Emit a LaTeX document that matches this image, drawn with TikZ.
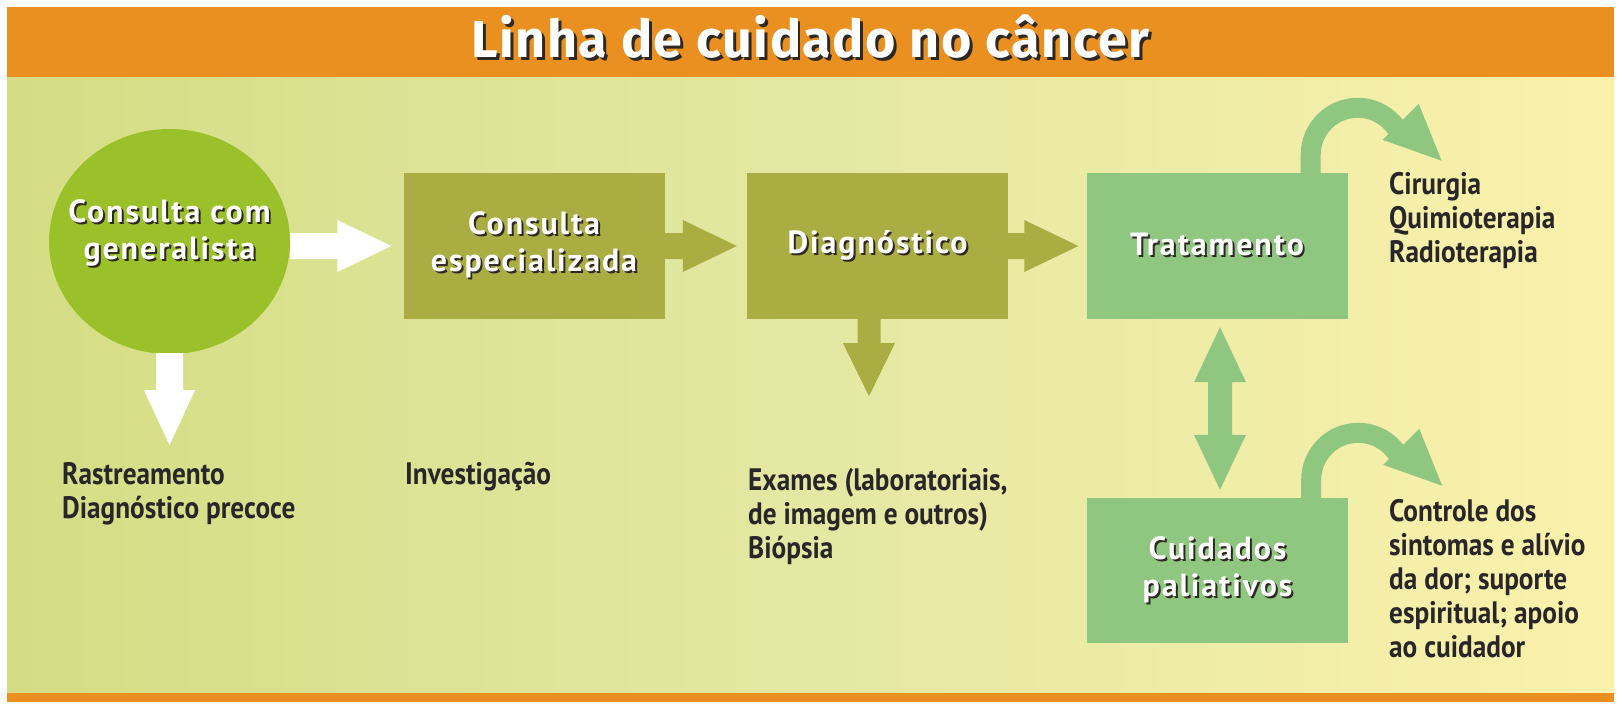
\documentclass[tikz,border=0pt]{standalone}
\usepackage{fontspec}
\setmainfont{PT Sans}
\newfontfamily\titlefont[LetterSpace=3]{Fira Sans}
\newfontfamily\boxfont[LetterSpace=6]{PT Sans}
\newfontfamily\labfont[FakeStretch=0.88]{PT Sans}
\usetikzlibrary{shapes.geometric,calc}
\definecolor{orangeC}{RGB}{233,144,32}
\definecolor{panelL}{RGB}{212,221,132}
\definecolor{panelM}{RGB}{228,232,163}
\definecolor{panelR}{RGB}{250,241,172}
\definecolor{circC}{RGB}{155,193,42}
\definecolor{oliveC}{RGB}{169,173,66}
\definecolor{lgreenC}{RGB}{143,198,128}
\definecolor{txtC}{RGB}{40,38,40}
\definecolor{shadowC}{RGB}{45,40,35}
\newcommand\sh[2][2pt]{\leavevmode\rlap{\kern#1\raisebox{-#1}{\textcolor{shadowC}{#2}}}#2}
\newcommand\tstrut{\rule{0pt}{26pt}}
% horizontal block arrow: colour, start, tip
\newcommand\hblock[3]{\fill[#1] ($(#2)+(0,-13)$) -- ($(#3)+(-54,-13)$) -- ($(#3)+(-54,-26)$) -- (#3) -- ($(#3)+(-54,26)$) -- ($(#3)+(-54,13)$) -- ($(#2)+(0,13)$) -- cycle;}
% vertical block arrow (downwards): colour, start, tip, shaft half, head half, head length
\newcommand\vblock[6]{\fill[#1] ($(#2)+(-#4,0)$) -- ($(#3)+(-#4,-#6)$) -- ($(#3)+(-#5,-#6)$) -- (#3) -- ($(#3)+(#5,-#6)$) -- ($(#3)+(#4,-#6)$) -- ($(#2)+(#4,0)$) -- cycle;}
% curved arrow leaving the top of a box
\newcommand\curvarrow[1]{%
  \draw[line width=20pt, lgreenC] ($(#1.north east)+(-37,2)$) -- ($(#1.north east)+(-37,-18)$) arc[start angle=180, end angle=32, radius=47pt];
  \fill[lgreenC] ($(#1.north east)+(71,-69)$) -- ($(#1.north east)+(94,-12)$) -- ($(#1.north east)+(35,-33)$) -- cycle;}
\tikzset{
  boxtext/.style={text=white, align=center, inner sep=0pt, font=\boxfont\bfseries\fontsize{32}{37}\selectfont},
  olivebox/.style={rectangle, fill=oliveC, minimum width=261pt, minimum height=146pt, boxtext},
  greenbox/.style={rectangle, fill=lgreenC, minimum width=261pt, minimum height=146pt, boxtext},
  lab/.style={anchor=north west, inner sep=0pt, align=left, text=txtC, font=\labfont\bfseries\fontsize{31}{34}\selectfont},
}
\begin{document}
\begin{tikzpicture}[x=1pt,y=-1pt]
\useasboundingbox (0,0) rectangle (1622,707);
\fill[white] (0,0) rectangle (1622,707);
\fill[orangeC] (7,7) rectangle (1614,77);
\shade[left color=panelL, right color=panelR, middle color=panelM] (7,77) rectangle (1614,693);
\fill[orangeC] (7,693) rectangle (1614,702);

\node[font=\titlefont\bfseries\fontsize{52}{60}\selectfont, text=white, anchor=base, inner sep=0pt] (title) at (810.5,57) {\sh[3pt]{Linha de cuidado no câncer}};

% nodes
\node[ellipse, fill=circC, minimum width=241pt, minimum height=225pt, inner sep=0pt] (gen) at (169.5,241.5) {};
\node[boxtext] (genT) at (169.5,234) {\sh{Consulta com}\\\sh{generalista}};
\node[olivebox] (cesp) at (534,246) {\sh{Consulta}\\\sh{especializada}};
\node[olivebox] (diag) at (877.5,246) {\sh{Diagnóstico}};
\node[greenbox] (trat) at (1217,246) {\sh{Tratamento}};
\node[greenbox, minimum height=145pt] (cuid) at (1217.5,570.5) {\sh{Cuidados}\\\sh{paliativos}};

% labels
\node[lab] (rast) at (62,458) {\tstrut Rastreamento\\Diagnóstico precoce};
\node[lab] (inv) at (405,458) {\tstrut Investigação};
\node[lab] (exam) at (748,464) {\tstrut Exames (laboratoriais,\\de imagem e outros)\\Biópsia};
\node[lab] (cir) at (1389,168) {\tstrut Cirurgia\\Quimioterapia\\Radioterapia};
\node[lab] (ctl) at (1389,495) {\tstrut Controle dos\\sintomas e alívio\\da dor; suporte\\espiritual; apoio\\ao cuidador};

% connector end points
\coordinate (a1s) at (gen.east |- cesp.west);
\coordinate (a1t) at ([xshift=-12pt]cesp.west);
\coordinate (a2s) at (cesp.east);
\coordinate (a2t) at ([xshift=-10pt]diag.west);
\coordinate (a3s) at (diag.east);
\coordinate (a3t) at ([xshift=-8pt]trat.west);
\coordinate (a4s) at ([yshift=1pt]gen.south);
\coordinate (a4t) at ($(gen.south)+(0,91)$);
\coordinate (a5s) at ([xshift=-8.5pt]diag.south);
\coordinate (a5t) at ($(a5s)+(0,77)$);
\coordinate (dtop) at ($(trat.south)+(3,8)$);
\coordinate (dbot) at ($(cuid.north)+(2.5,-8)$);

% connectors
\hblock{white}{a1s}{a1t}
\hblock{oliveC}{a2s}{a2t}
\hblock{oliveC}{a3s}{a3t}
\vblock{white}{a4s}{a4t}{13.5}{25.5}{55}
\vblock{oliveC}{a5s}{a5t}{11.5}{26}{53}
\fill[lgreenC] (dtop) -- ($(dtop)+(26,55)$) -- ($(dtop)+(12,55)$) -- ($(dbot)+(12,-55)$) -- ($(dbot)+(26,-55)$) -- (dbot) -- ($(dbot)+(-26,-55)$) -- ($(dbot)+(-12,-55)$) -- ($(dtop)+(-12,55)$) -- ($(dtop)+(-26,55)$) -- cycle;
\curvarrow{trat}
\curvarrow{cuid}
\end{tikzpicture}
\end{document}
